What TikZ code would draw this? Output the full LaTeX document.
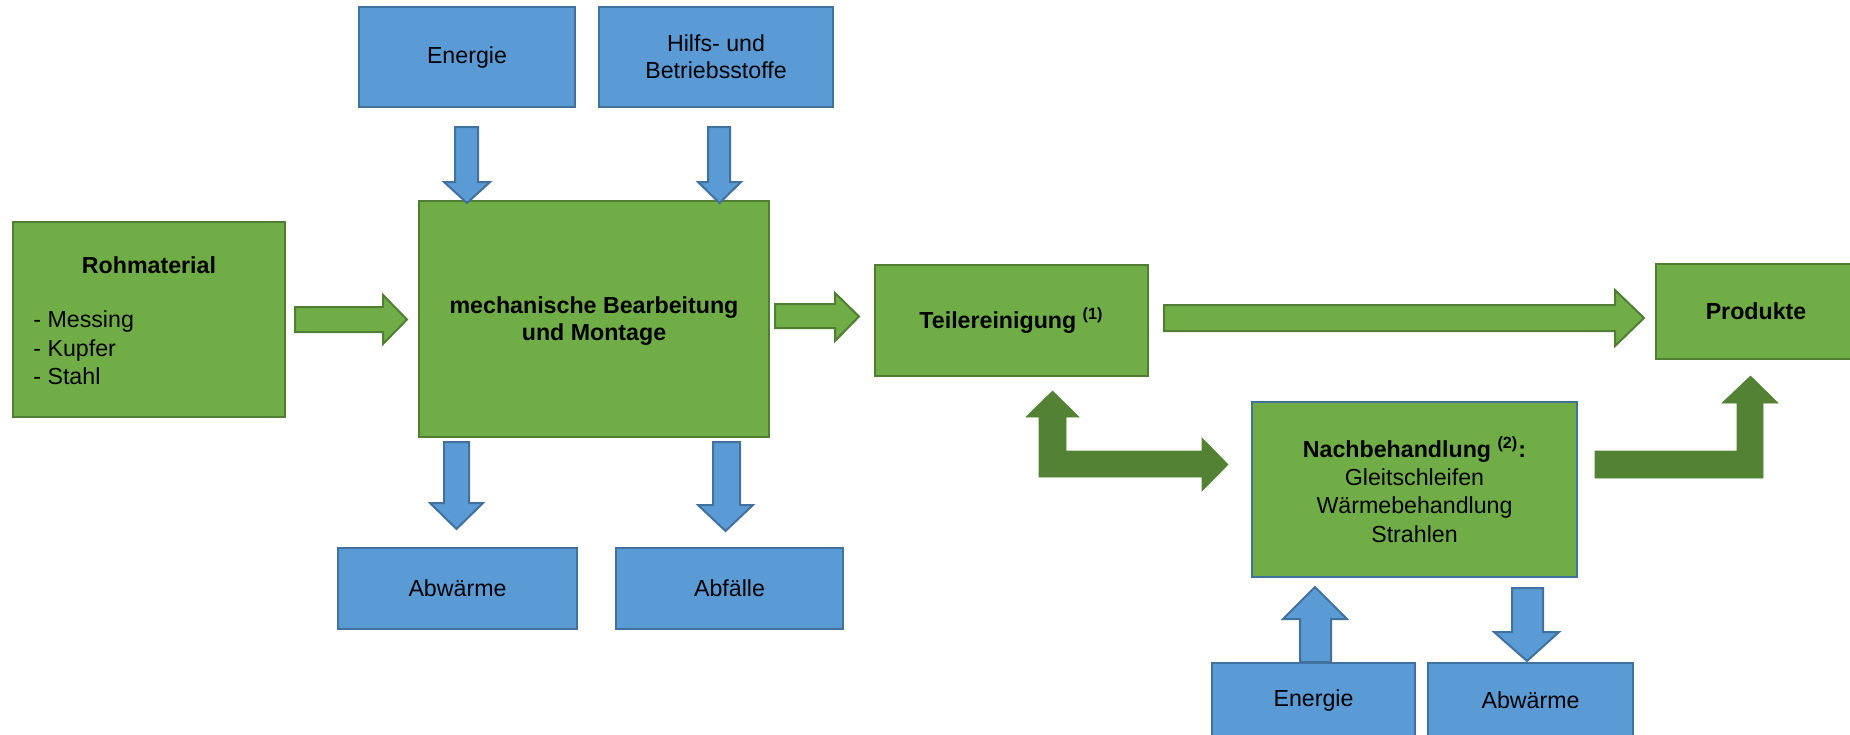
\documentclass[tikz,border=0pt]{standalone}
\usepackage{fontspec}
\setmainfont{Liberation Sans}
\definecolor{gfill}{HTML}{70AD47}
\definecolor{gdraw}{HTML}{507E32}
\definecolor{bfill}{HTML}{5B9BD5}
\definecolor{bdraw}{HTML}{41719C}
\definecolor{dgreen}{HTML}{548235}
\begin{document}
\begin{tikzpicture}[x=0.5pt,y=-0.5pt,
  every node/.style={font=\fontsize{11.6}{14.2}\selectfont, inner sep=0pt},
  gbox/.style={draw=gdraw, fill=gfill, line width=1pt},
  bbox/.style={draw=bdraw, fill=bfill, line width=1pt},
  garrow/.style={draw=gdraw, fill=gfill, line width=1pt, line join=miter},
  barrow/.style={draw=bdraw, fill=bfill, line width=1pt, line join=miter},
  darrow/.style={fill=dgreen, draw=dgreen, line width=0.3pt},
  txt/.style={align=center, text=black}]
\useasboundingbox (0,0) rectangle (1850,734);

% boxes
\node[gbox, minimum width=136pt, minimum height=97.5pt] (roh) at (149,319.5) {};
\node[txt, font=\fontsize{11.6}{14.2}\selectfont\bfseries] (rohT) at (149,265) {Rohmaterial};
\node[anchor=west, align=left, font=\fontsize{11.6}{14.25}\selectfont] (rohL) at (33,348) {- Messing\\- Kupfer\\- Stahl};

\node[gbox, minimum width=175pt, minimum height=118pt] (mech) at (594,319) {};
\node[txt, font=\fontsize{11.6}{13.6}\selectfont\bfseries] (mechT) at (594,321) {mechanische Bearbeitung\\und Montage};

\node[bbox, minimum width=108pt, minimum height=50pt, txt] (en1) at (467,57) {Energie};
\node[bbox, minimum width=117pt, minimum height=50pt, txt, font=\fontsize{11.6}{13.6}\selectfont] (hilfs) at (716,57) {Hilfs- und\\Betriebsstoffe};

\node[bbox, minimum width=119.5pt, minimum height=40.5pt, txt] (abw1) at (457.5,588) {Abwärme};
\node[bbox, minimum width=113.5pt, minimum height=40.5pt, txt] (abf) at (729.5,588) {Abfälle};

\node[gbox, minimum width=136.5pt, minimum height=55.5pt, txt, font=\fontsize{11.6}{14.2}\selectfont\bfseries] (teile) at (1011.5,320.5) {Teilereinigung \textsuperscript{(1)}};

\node[gbox, minimum width=100pt, minimum height=47.5pt, txt, font=\fontsize{11.6}{14.2}\selectfont\bfseries] (prod) at (1756,311.5) {Produkte};

\node[draw=bdraw, fill=gfill, line width=1pt, minimum width=162.5pt, minimum height=87.5pt, txt] (nach) at (1414.5,489.5) {\textbf{Nachbehandlung \textsuperscript{(2)}:}\\Gleitschleifen\\Wärmebehandlung\\Strahlen};

\node[bbox, minimum width=101.5pt, minimum height=40pt, anchor=north] (en2) at (1313.5,662) {};
\node[txt] (en2T) at (1313.5,700) {Energie};
\node[bbox, minimum width=102.5pt, minimum height=40pt, anchor=north] (abw2) at (1530.5,662) {};
\node[txt] (abw2T) at (1530.5,700) {Abwärme};

% green horizontal arrows
\draw[garrow] (295,307) -- (383,307) -- (383,295) -- (407,319.5) -- (383,344) -- (383,332) -- (295,332) -- cycle;
\draw[garrow] (775,304) -- (835,304) -- (835,293) -- (859,316.5) -- (835,341) -- (835,328) -- (775,328) -- cycle;
\draw[garrow] (1164,305) -- (1615,305) -- (1615,290) -- (1644,318) -- (1615,346) -- (1615,331) -- (1164,331) -- cycle;

% blue vertical arrows
\draw[barrow] (455,127) -- (478,127) -- (478,182) -- (490,182) -- (467,203) -- (444,182) -- (455,182) -- cycle;
\draw[barrow] (708,127) -- (730,127) -- (730,182) -- (741,182) -- (719.5,203) -- (698,182) -- (708,182) -- cycle;
\draw[barrow] (444,442) -- (469,442) -- (469,503) -- (483,503) -- (456.5,529) -- (430,503) -- (444,503) -- cycle;
\draw[barrow] (713,442) -- (740,442) -- (740,505) -- (753,505) -- (725.5,531) -- (698,505) -- (713,505) -- cycle;
\draw[barrow] (1300,662) -- (1300,619) -- (1283,619) -- (1315,587) -- (1347,619) -- (1331,619) -- (1331,662) -- cycle;
\draw[barrow] (1512,588) -- (1543,588) -- (1543,632) -- (1559,632) -- (1527,661) -- (1494,632) -- (1512,632) -- cycle;

% dark green bent arrows
\filldraw[darrow] (1052.5,391) -- (1079,417) -- (1066,417) -- (1066,451) -- (1202,451) -- (1202,438) -- (1228,464.5) -- (1202,491) -- (1202,477) -- (1039,477) -- (1039,417) -- (1026,417) -- cycle;
\filldraw[darrow] (1595,451) -- (1737,451) -- (1737,403) -- (1722,403) -- (1750.5,376) -- (1778,403) -- (1763,403) -- (1763,478) -- (1595,478) -- cycle;
\end{tikzpicture}
\end{document}
